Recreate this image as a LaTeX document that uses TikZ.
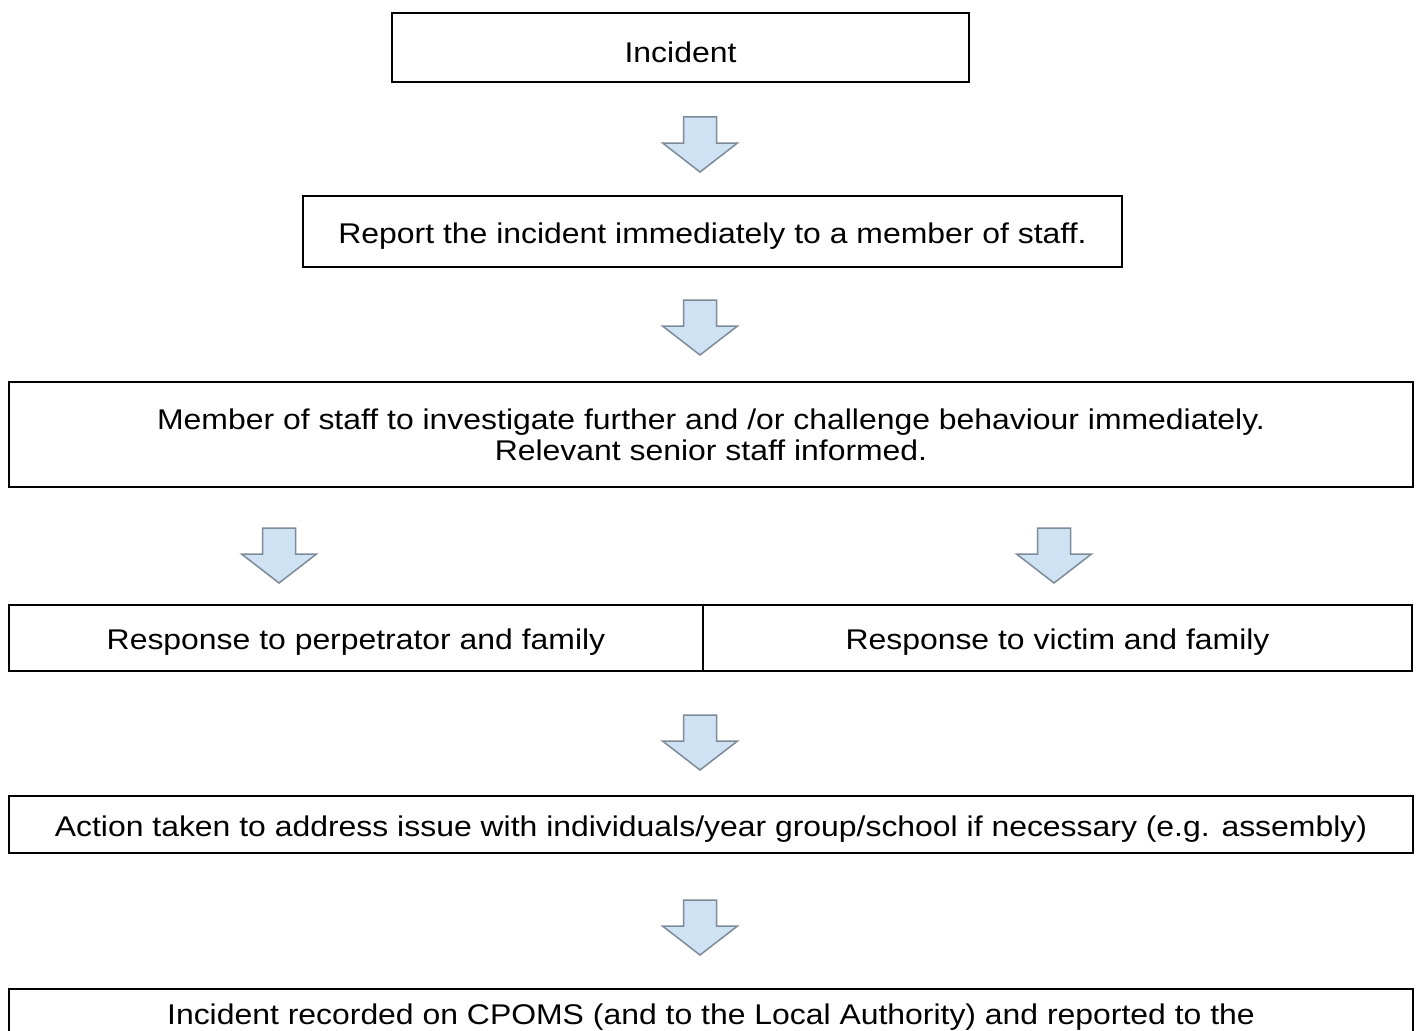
\documentclass[tikz,border=0pt]{standalone}
\usepackage{fontspec}
\setmainfont[FakeStretch=1.12]{Liberation Sans}
\definecolor{arrfill}{RGB}{207,226,243}
\definecolor{arrdraw}{RGB}{125,138,152}
\newcommand{\lowtxt}[1]{\raisebox{-4.5pt}[\height][\depth]{#1}}
\begin{document}
\begin{tikzpicture}[x=1pt,y=-1pt,
  box/.style={draw=black, line width=2.6pt, rectangle, inner sep=0pt, outer sep=0pt,
    font=\fontsize{28.5}{31}\selectfont, align=center},
  blockarrow/.pic={
    \draw[fill=arrfill, draw=arrdraw, line width=1.5pt, line join=miter]
      (-16.5,0) -- (16.5,0) -- (16.5,26) -- (37.5,26) -- (0,55) -- (-37.5,26) -- (-16.5,26) -- cycle;
  }]
\useasboundingbox (0,0) rectangle (1420,1030);
\clip (0,0) rectangle (1420,1030);
\node[box, minimum width=577pt, minimum height=69pt] (incident) at (680.5,47.5) {\lowtxt{Incident}};
\node[box, minimum width=819pt, minimum height=71pt] (report) at (712.5,231.5) {\lowtxt{Report the incident immediately to a member of staff.}};
\node[box, minimum width=1404pt, minimum height=105pt] (member) at (711,434.5)
  {Member of staff to investigate further and /or challenge behaviour immediately.\\Relevant senior staff informed.};
\node[box, minimum width=694pt, minimum height=66pt] (perp) at (356,638) {\lowtxt{Response to perpetrator and family}};
\node[box, minimum width=709pt, minimum height=66pt] (victim) at (1057.5,638) {\lowtxt{Response to victim and family}};
\node[box, line width=1.9pt, minimum width=1404pt, minimum height=57pt] (action) at (711,824.5)
  {\lowtxt{Action taken to address issue with individuals/year group/school if necessary (e.g. assembly)}};
\node[box, minimum width=1404pt, minimum height=120pt, anchor=north] (record) at (711,989) {};
\node[font=\fontsize{28.5}{31}\selectfont] (recordtext) at (711,1017) {Incident recorded on CPOMS (and to the Local Authority) and reported to the};
\pic at (700,117) {blockarrow};
\pic at (700,300) {blockarrow};
\pic at (279,528) {blockarrow};
\pic at (1054,528) {blockarrow};
\pic at (700,715) {blockarrow};
\pic at (700,900) {blockarrow};
\end{tikzpicture}
\end{document}
